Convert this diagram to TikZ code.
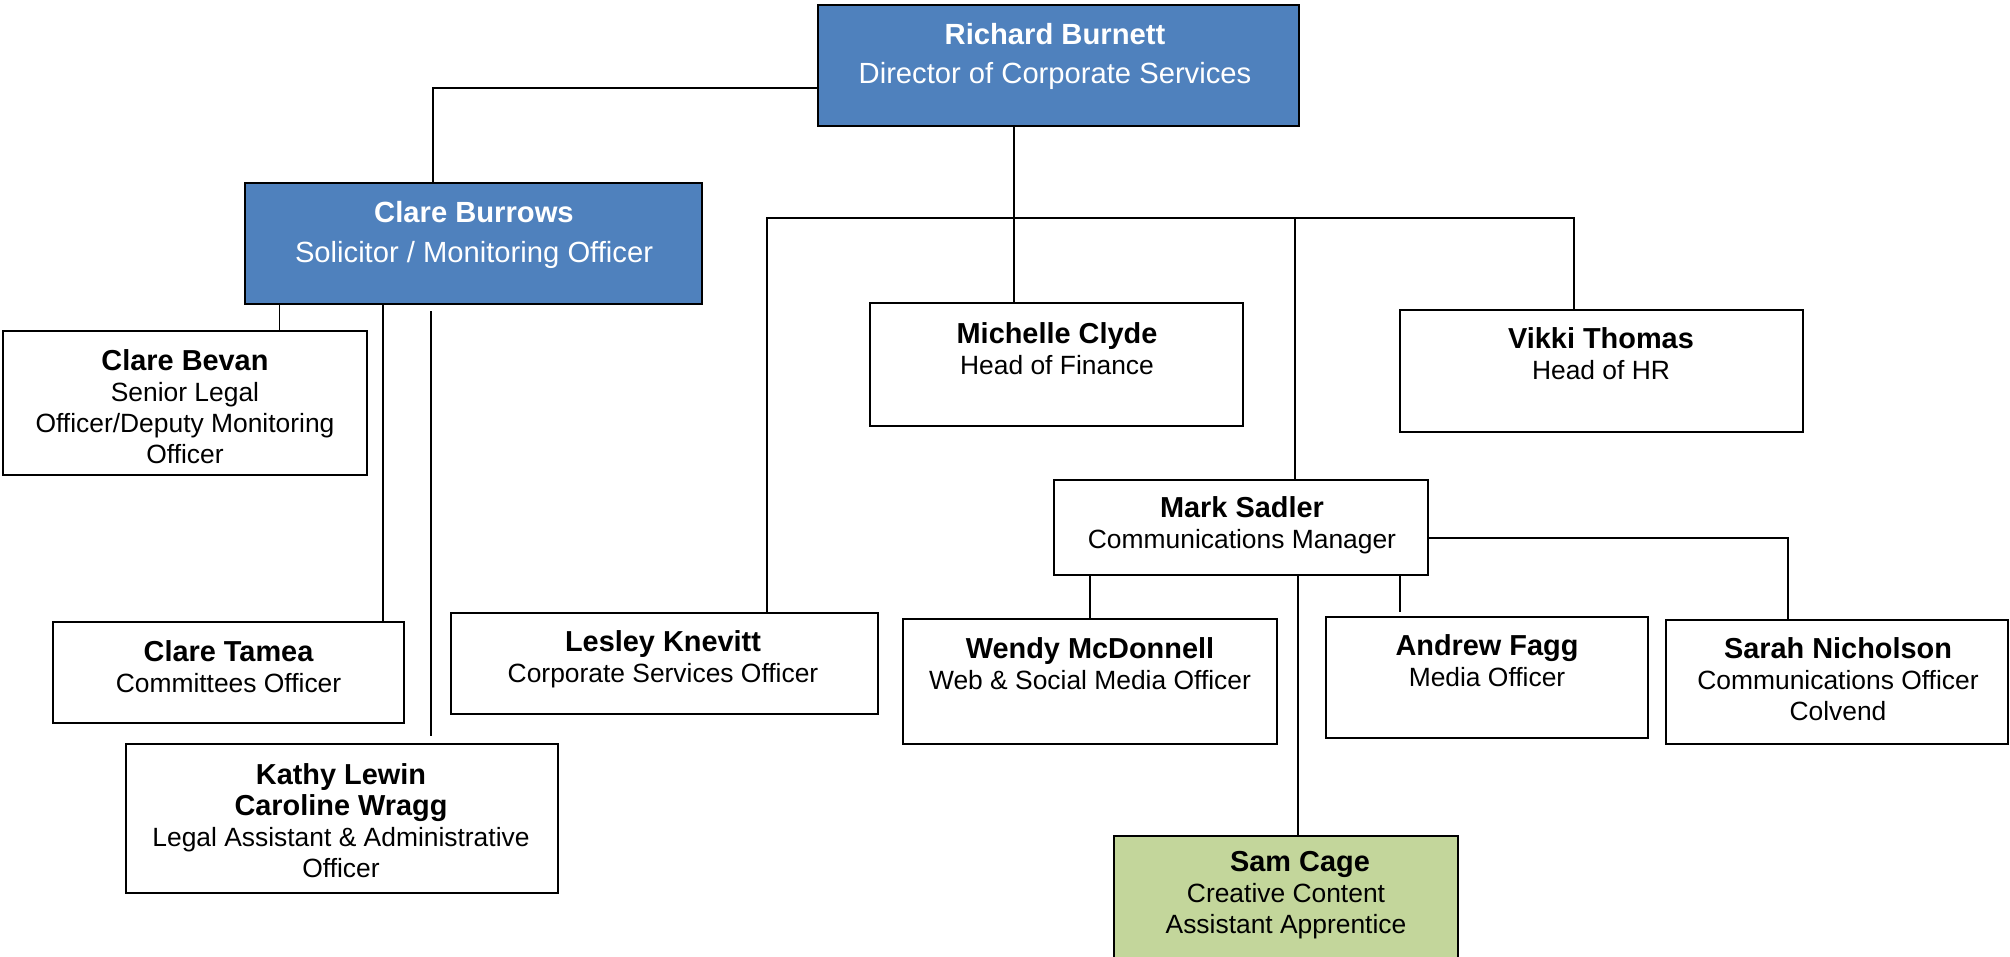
\documentclass[tikz,border=0pt]{standalone}
\usepackage{fontspec}
\setmainfont{Liberation Sans}
\definecolor{boxblue}{HTML}{4F81BD}
\definecolor{boxgreen}{HTML}{C3D69B}
\newcommand{\pname}[1]{{\bfseries\fontsize{29}{31}\selectfont #1}}
\begin{document}
\begin{tikzpicture}[x=1bp,y=-1bp,
  box/.style={draw=black, line width=2bp, inner sep=0pt, fill=white},
  bluebox/.style={box, fill=boxblue},
  greenbox/.style={box, fill=boxgreen},
  txt/.style={align=center, inner sep=0pt, font=\fontsize{26.5}{31}\selectfont},
  bluetxt/.style={align=center, inner sep=0pt, text=white, font=\fontsize{29.3}{40}\selectfont},
  conn/.style={draw=black, line width=1.3bp}]
\useasboundingbox[fill=white] (0,0) rectangle (2010,957);

% boxes
\node[bluebox, minimum width=481bp, minimum height=121bp] (rb) at (1058.5,65.5) {};
\node[bluebox, minimum width=457bp, minimum height=121bp] (cb) at (473.5,243.5) {};
\node[box, minimum width=364bp, minimum height=144bp] (bevan) at (185,403) {};
\node[box, minimum width=351bp, minimum height=101bp] (tamea) at (228.5,672.5) {};
\node[box, minimum width=432bp, minimum height=149bp] (kathy) at (342,818.5) {};
\node[box, minimum width=427bp, minimum height=101bp] (lesley) at (664.5,663.5) {};
\node[box, minimum width=373bp, minimum height=123bp] (mc) at (1056.5,364.5) {};
\node[box, minimum width=403bp, minimum height=122bp] (vt) at (1601.5,371) {};
\node[box, minimum width=374bp, minimum height=95bp] (ms) at (1241,527.5) {};
\node[box, minimum width=374bp, minimum height=125bp] (wendy) at (1090,681.5) {};
\node[box, minimum width=322bp, minimum height=121bp] (andrew) at (1487,677.5) {};
\node[box, minimum width=342bp, minimum height=124bp] (sarah) at (1837,682) {};
\node[greenbox, minimum width=344bp, minimum height=144bp] (sam) at (1286,908) {};

% texts
\node[bluetxt] (rb-t) at (1055,56.5) {\textbf{Richard Burnett}\\Director of Corporate Services};
\node[bluetxt] (cb-t) at (474,235) {\textbf{Clare Burrows}\\Solicitor / Monitoring Officer};
\node[txt] (bevan-t) at (185,406.5) {\pname{Clare Bevan}\\Senior Legal\\Officer/Deputy Monitoring\\Officer};
\node[txt] (tamea-t) at (228.5,667) {\pname{Clare Tamea}\\Committees Officer};
\node[txt] (kathy-t) at (341,820.5) {\pname{Kathy Lewin}\\\pname{Caroline Wragg}\\Legal Assistant \& Administrative\\Officer};
\node[txt] (lesley-t) at (663,659.5) {\pname{Lesley Knevitt}\\Corporate Services Officer};
\node[txt] (mc-t) at (1057,348.5) {\pname{Michelle Clyde}\\Head of Finance};
\node[txt] (vt-t) at (1601,354) {\pname{Vikki Thomas}\\Head of HR};
\node[txt] (ms-t) at (1242,525) {\pname{Mark Sadler}\\Communications Manager};
\node[txt] (wendy-t) at (1090,664) {\pname{Wendy McDonnell}\\Web \& Social Media Officer};
\node[txt] (andrew-t) at (1487,661) {\pname{Andrew Fagg}\\Media Officer};
\node[txt] (sarah-t) at (1838,679) {\pname{Sarah Nicholson}\\Communications Officer\\Colvend};
\node[txt] (sam-t) at (1286,895) {\hspace*{28bp}\pname{Sam Cage}\\Creative Content\\Assistant Apprentice};

% junction coordinates
\coordinate (j-cb) at (433,88);
\coordinate (x-mc) at (1014,0);
\coordinate (bus-l) at (767,218);
\coordinate (bus-m) at (1295,218);
\coordinate (bus-r) at (1574,218);
\coordinate (x-bevan) at (279.5,0);
\coordinate (x-tamea) at (383,0);
\coordinate (x-kathy) at (431,0);
\coordinate (x-wendy) at (1090,0);
\coordinate (x-sam) at (1298,0);
\coordinate (x-andrew) at (1400,0);
\coordinate (j-sarah) at (1788,538);

% connectors
\draw[conn] (j-cb -| rb.west) -- (j-cb) -- (j-cb |- cb.north);
\draw[conn] (rb.south -| x-mc) -- (mc.north -| x-mc);
\draw[conn] (bus-l |- lesley.north) -- (bus-l) -- (bus-r) -- (bus-r |- vt.north);
\draw[conn] (bus-m) -- (bus-m |- ms.north);
\draw[conn] (cb.south -| x-bevan) -- (bevan.north -| x-bevan);
\draw[conn] (cb.south -| x-tamea) -- (tamea.north -| x-tamea);
\draw[conn, shorten <=6bp, shorten >=7bp] (cb.south -| x-kathy) -- (kathy.north -| x-kathy);
\draw[conn] (ms.south -| x-wendy) -- (wendy.north -| x-wendy);
\draw[conn] (ms.south -| x-sam) -- (sam.north -| x-sam);
\draw[conn, shorten >=4bp] (ms.south -| x-andrew) -- (andrew.north -| x-andrew);
\draw[conn] (j-sarah -| ms.east) -- (j-sarah) -- (j-sarah |- sarah.north);
\end{tikzpicture}
\end{document}
